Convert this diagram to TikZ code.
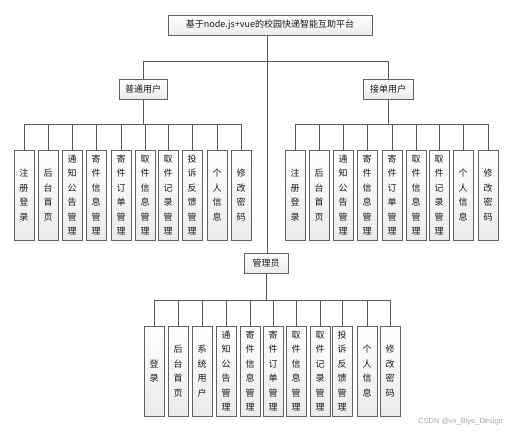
\documentclass[tikz,border=0pt]{standalone}
\usepackage{fontspec}
\setmainfont{Noto Sans CJK SC}
\usetikzlibrary{calc}
\begin{document}
\begin{tikzpicture}[x=1pt,y=-1pt,
  box/.style={draw=black!62,line width=0.9pt,top color=white,bottom color=black!8,inner sep=0pt,font=\fontsize{9}{14.5}\selectfont,text=black!90},
  hbox/.style={box,minimum height=20pt},
  vbox/.style={box,minimum width=20pt,minimum height=90pt,align=center},
  ln/.style={draw=black!65,line width=0.9pt}]
\useasboundingbox (0,0) rectangle (520,433);
\fill[white] (0,0) rectangle (520,433);
% top
\node[hbox,minimum width=204pt] (root) at (270,25) {基于node.js+vue的校园快递智能互助平台};
\node[hbox,minimum width=48pt] (pu) at (143,89) {普通用户};
\node[hbox,minimum width=50pt] (jd) at (388,89) {接单用户};
\node[hbox,minimum width=44pt] (gl) at (266,263) {管理员};
\coordinate (rj) at (267,61);
\draw[ln] (root.south -| rj) -- (gl.north -| rj);
\draw[ln] (pu.north) -- (pu.north |- rj) -- (jd.north |- rj) -- (jd.north);
% left group
\foreach \i/\x/\t in {1/24/注\\册\\登\\录, 2/48/后\\台\\首\\页, 3/72/通\\知\\公\\告\\管\\理, 4/96/寄\\件\\信\\息\\管\\理, 5/121/寄\\件\\订\\单\\管\\理, 6/145/取\\件\\信\\息\\管\\理, 7/168/取\\件\\记\\录\\管\\理, 8/192/投\\诉\\反\\馈\\管\\理, 9/217/个\\人\\信\\息, 10/241/修\\改\\密\\码}{
  \node[vbox] (a\i) at (\x,195) {\t};
}
\coordinate (ab) at (0,124);
\draw[ln] (pu.south) -- (pu.south |- ab);
\draw[ln] (a1.north) -- (a1.north |- ab) -- (a10.north |- ab) -- (a10.north);
\foreach \i in {2,...,9}{ \draw[ln] (a\i.north) -- (a\i.north |- ab); }
% right group
\foreach \i/\x/\t in {1/295/注\\册\\登\\录, 2/319/后\\台\\首\\页, 3/343/通\\知\\公\\告\\管\\理, 4/367/寄\\件\\信\\息\\管\\理, 5/392/寄\\件\\订\\单\\管\\理, 6/416/取\\件\\信\\息\\管\\理, 7/439/取\\件\\记\\录\\管\\理, 8/463/个\\人\\信\\息, 9/488/修\\改\\密\\码}{
  \node[vbox] (b\i) at (\x,195) {\t};
}
\coordinate (bb) at (0,124);
\draw[ln] (jd.south) -- (jd.south |- bb);
\draw[ln] (b1.north) -- (b1.north |- bb) -- (b9.north |- bb) -- (b9.north);
\foreach \i in {2,...,8}{ \draw[ln] (b\i.north) -- (b\i.north |- bb); }
% admin group
\foreach \i/\x/\t in {1/154/登\\录, 2/178/后\\台\\首\\页, 3/202/系\\统\\用\\户, 4/226/通\\知\\公\\告\\管\\理, 5/250/寄\\件\\信\\息\\管\\理, 6/273/寄\\件\\订\\单\\管\\理, 7/296/取\\件\\信\\息\\管\\理, 8/320/取\\件\\记\\录\\管\\理, 9/342/投\\诉\\反\\馈\\管\\理, 10/367/个\\人\\信\\息, 11/390/修\\改\\密\\码}{
  \node[vbox] (c\i) at (\x,371) {\t};
}
\coordinate (cb) at (0,300);
\draw[ln] (gl.south) -- (gl.south |- cb);
\draw[ln] (c1.north) -- (c1.north |- cb) -- (c11.north |- cb) -- (c11.north);
\foreach \i in {2,...,10}{ \draw[ln] (c\i.north) -- (c\i.north |- cb); }
\node[anchor=west,text=black!35,font=\fontfamily{}\fontspec{Liberation Sans}\fontsize{7.5}{9}\selectfont,inner sep=0pt] (wm) at (418,422) {CSDN @vx\_Biye\_Design};
\end{tikzpicture}
\end{document}
